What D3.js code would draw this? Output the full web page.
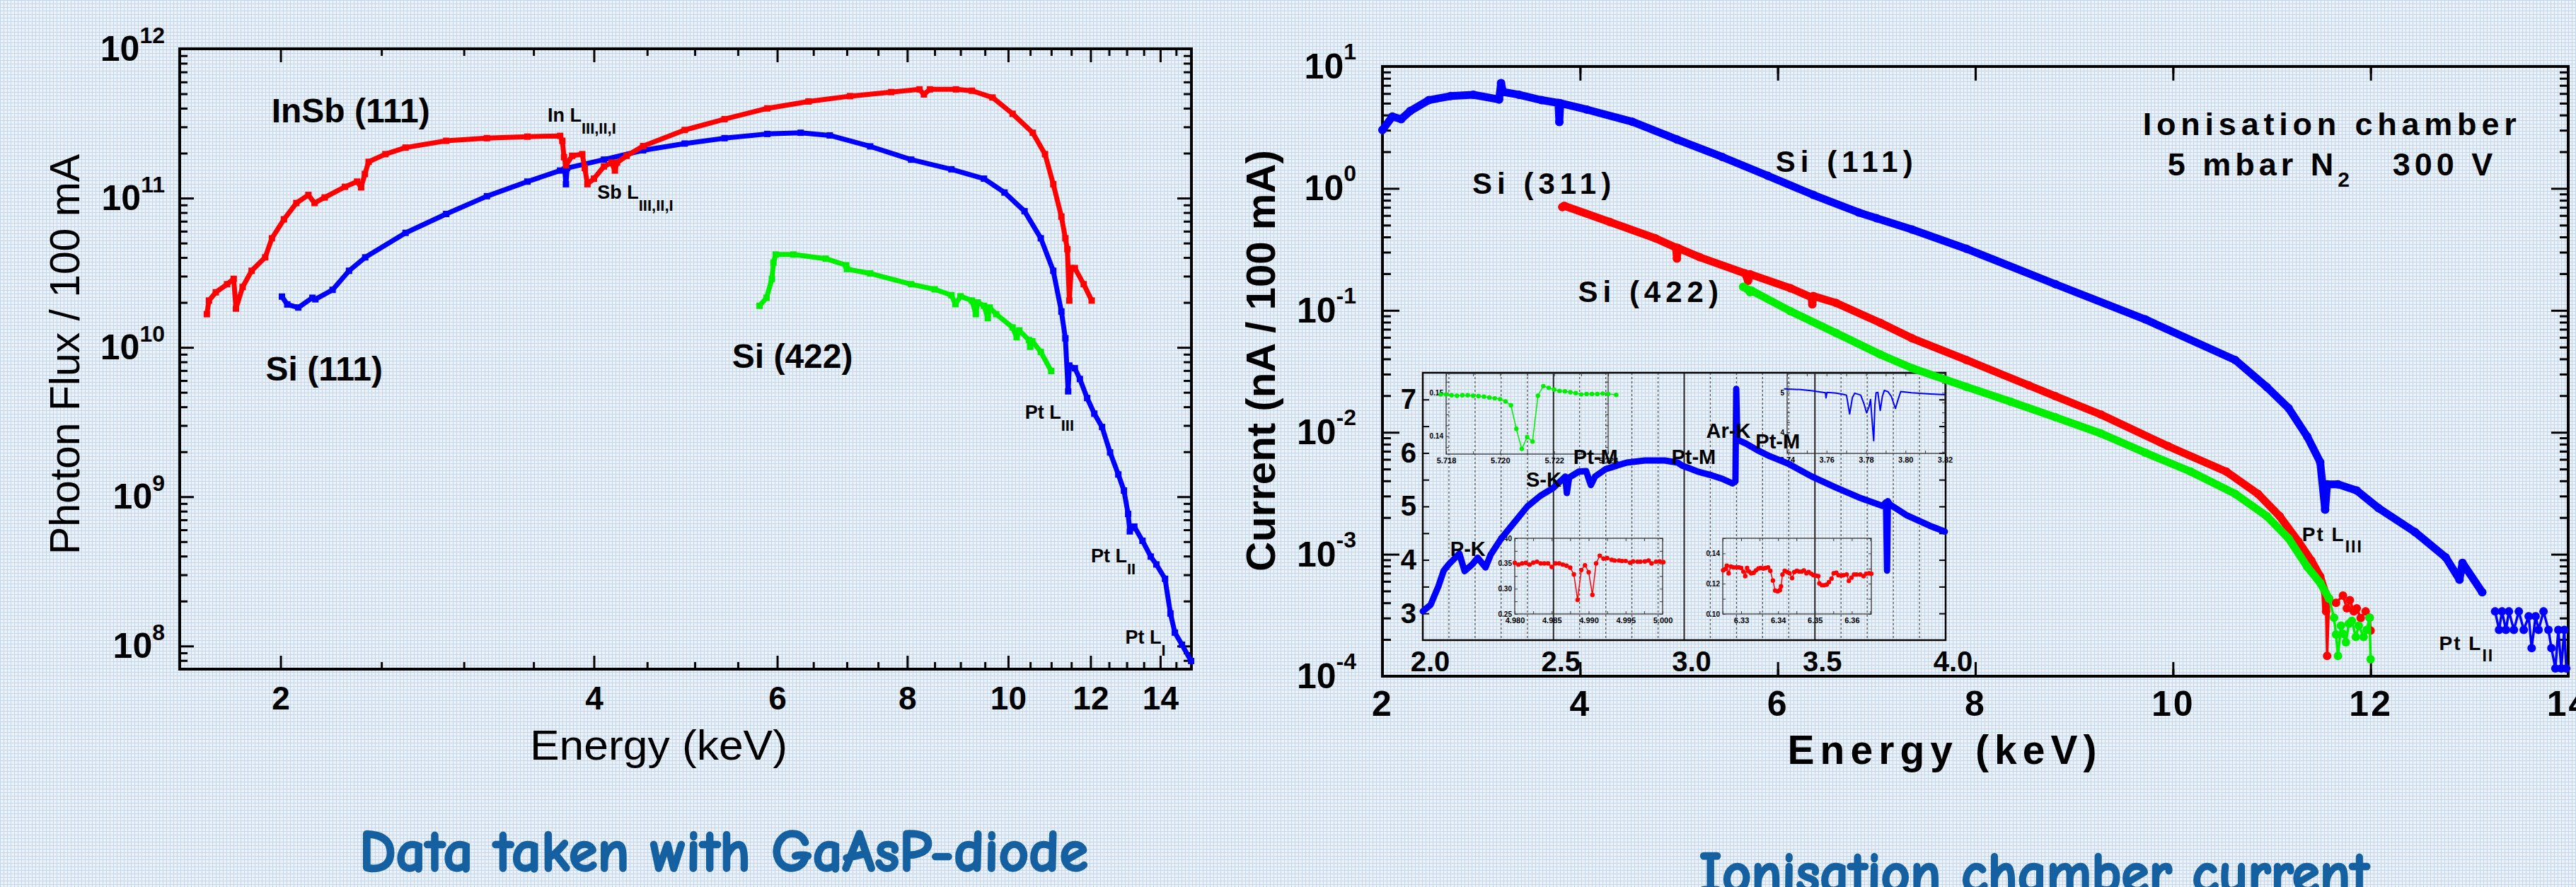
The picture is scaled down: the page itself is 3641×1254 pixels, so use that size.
<!DOCTYPE html>
<html>
<head>
<meta charset="utf-8">
<title>Photon flux and ionisation chamber current</title>
<script src="https://cdn.jsdelivr.net/npm/d3@7"></script>
<style>
  body { margin: 0; background: #eef3f9; }
  svg { display: block; }
  text { font-family: "Liberation Sans", Arial, Helvetica, sans-serif; fill: #000; }
  .caption { font-family: "Comic Sans MS", "Comic Neue", "DejaVu Sans", sans-serif; font-weight: bold; fill: #1560a0; stroke: #1560a0; stroke-width: 2.5; }
</style>
</head>
<body>
<svg id="chart" width="3641" height="1254"></svg>
<script>
// --- DATA: GaAsP diode (left panel), energy [keV] vs photons / 100 mA ---
const diodeInSb111 = [
  [1.699, 1.67e10], [1.707, 2.06e10], [1.733, 2.34e10], [1.777, 2.65e10], [1.803, 2.88e10],
  [1.812, 1.82e10], [1.839, 2.54e10], [1.876, 3.26e10], [1.933, 4.01e10], [1.962, 5.38e10],
  [2.015, 7.21e10], [2.071, 9.27e10], [2.127, 1.05e11], [2.156, 9.27e10], [2.205, 1.01e11],
  [2.306, 1.19e11], [2.369, 1.29e11], [2.39, 1.18e11], [2.41, 1.45e11], [2.43, 1.75e11],
  [2.522, 1.97e11], [2.637, 2.18e11], [2.885, 2.42e11], [3.157, 2.52e11], [3.453, 2.58e11],
  [3.712, 2.61e11], [3.73, 2.42e11], [3.744, 1.88e11], [3.76, 1.66e11], [3.812, 1.92e11],
  [3.898, 1.97e11], [3.92, 1.59e11], [3.943, 1.24e11], [4.00, 1.35e11], [4.09, 1.63e11],
  [4.16, 1.73e11], [4.19, 1.53e11], [4.21, 1.73e11], [4.30, 1.92e11], [4.46, 2.23e11],
  [4.89, 2.86e11], [5.34, 3.38e11], [5.87, 3.99e11], [6.43, 4.44e11], [7.05, 4.82e11],
  [7.72, 5.13e11], [8.22, 5.35e11], [8.30, 4.95e11], [8.41, 5.35e11], [8.91, 5.35e11],
  [9.23, 5.24e11], [9.66, 4.72e11], [10.10, 3.67e11], [10.56, 2.74e11], [10.85, 1.97e11],
  [11.05, 1.24e11], [11.25, 7.52e10], [11.35, 5.38e10], [11.40, 4.55e10], [11.45, 2.06e10],
  [11.50, 3.40e10], [11.59, 3.40e10], [11.82, 2.65e10], [12.03, 2.06e10]
];
const diodeSi111 = [
  [2.006, 2.19e10], [2.03, 1.94e10], [2.08, 1.85e10], [2.146, 2.15e10], [2.16, 2.10e10],
  [2.244, 2.43e10], [2.327, 3.26e10], [2.412, 4.01e10], [2.637, 5.85e10], [2.885, 7.83e10],
  [3.157, 1.03e11], [3.453, 1.29e11], [3.712, 1.53e11], [3.75, 1.55e11], [3.76, 1.24e11],
  [3.77, 1.59e11], [4.09, 1.81e11], [4.46, 2.09e11], [4.89, 2.32e11], [5.34, 2.52e11],
  [5.87, 2.69e11], [6.32, 2.74e11], [6.74, 2.63e11], [7.37, 2.22e11], [8.07, 1.81e11],
  [8.82, 1.56e11], [9.48, 1.35e11], [9.92, 1.09e11], [10.37, 8.17e10], [10.75, 5.38e10],
  [11.05, 3.26e10], [11.25, 1.74e10], [11.35, 1.15e10], [11.42, 5.08e9], [11.45, 7.56e9],
  [11.59, 7.25e9], [11.72, 6.14e9], [11.91, 4.58e9], [12.10, 3.6e9], [12.31, 2.93e9],
  [12.53, 1.98e9], [12.76, 1.41e9], [12.92, 1.10e9], [13.04, 7.67e8], [13.09, 5.86e8],
  [13.22, 6.31e8], [13.46, 5.07e8], [13.71, 3.97e8], [13.88, 3.52e8], [14.15, 2.82e8],
  [14.32, 1.65e8], [14.46, 1.23e8], [14.69, 1.02e8], [14.99, 7.94e7]
];
const diodeSi422 = [
  [5.77, 1.90e10], [5.86, 2.15e10], [5.93, 2.88e10], [5.95, 3.70e10], [5.98, 4.19e10],
  [6.22, 4.19e10], [6.68, 3.93e10], [6.99, 3.55e10], [7.00, 3.35e10], [7.37, 3.13e10],
  [8.07, 2.65e10], [8.5, 2.45e10], [8.82, 2.24e10], [8.9, 1.95e10], [9.0, 2.2e10],
  [9.23, 2.06e10], [9.31, 1.67e10], [9.35, 2.0e10], [9.48, 1.90e10], [9.56, 1.57e10],
  [9.6, 1.85e10], [9.74, 1.67e10], [10.10, 1.36e10], [10.19, 1.17e10], [10.25, 1.30e10],
  [10.47, 1.12e10], [10.5, 1.01e10], [10.55, 1.10e10], [10.75, 9.31e9], [11.00, 6.95e9]
];
const diodeXTicks = [2, 4, 6, 8, 10, 12, 14];
const diodeYExps = [8, 9, 10, 11, 12];

// --- DATA: ionisation chamber (right panel), energy [keV] vs nA / 100 mA ---
const ionSi111 = [
  [2.00, 3.02], [2.10, 3.89], [2.19, 3.70], [2.28, 4.31], [2.47, 5.30], [2.69, 5.72],
  [2.92, 5.86], [3.18, 5.36], [3.20, 7.3], [3.22, 6.18], [3.38, 5.87], [3.61, 5.30],
  [3.78, 5.03], [3.79, 3.50], [3.80, 5.0], [4.07, 4.43], [4.53, 3.52], [4.98, 2.52],
  [5.44, 1.81], [5.90, 1.27], [6.36, 0.885], [6.82, 0.635], [7.00, 0.57], [7.36, 0.46],
  [7.91, 0.32], [8.81, 0.164], [9.72, 0.0843], [10.63, 0.0392], [10.95, 0.0235],
  [11.17, 0.0158], [11.36, 0.0092], [11.49, 0.0057], [11.54, 0.00232], [11.56, 0.00375],
  [11.67, 0.00375], [11.86, 0.00333], [12.08, 0.00239], [12.45, 0.00152], [12.76, 0.000944],
  [12.90, 0.00062], [12.93, 0.00085], [13.13, 0.000488], [13.26, 0.00034], [13.30, 0.00024],
  [13.33, 0.00034], [13.37, 0.00024], [13.40, 0.00034], [13.45, 0.00024], [13.50, 0.00034],
  [13.55, 0.00024], [13.60, 0.00031], [13.63, 0.00017], [13.67, 0.00031], [13.70, 0.00024],
  [13.75, 0.00034], [13.80, 0.00024], [13.83, 0.00017], [13.87, 0.000116], [13.90, 0.00024],
  [13.93, 0.000116], [13.96, 0.00024], [13.98, 0.000116]
];
const ionSi311 = [
  [3.82, 0.703], [3.84, 0.72], [4.30, 0.531], [4.76, 0.391], [4.97, 0.327], [4.98, 0.266],
  [4.99, 0.325], [5.21, 0.273], [5.67, 0.201], [5.70, 0.175], [5.72, 0.198], [6.13, 0.152],
  [6.34, 0.128], [6.35, 0.112], [6.36, 0.131], [6.59, 0.115], [7.04, 0.079], [7.36, 0.059],
  [7.91, 0.0392], [8.54, 0.0243], [8.81, 0.0198], [9.27, 0.0140], [9.95, 0.0077],
  [10.54, 0.00476], [10.86, 0.00313], [11.08, 0.00205], [11.27, 0.00127], [11.40, 0.000888],
  [11.49, 0.000657], [11.54, 0.000488], [11.55, 0.00034], [11.56, 0.000147], [11.58, 0.000433],
  [11.65, 0.00040], [11.72, 0.000459], [11.76, 0.00036], [11.79, 0.00042], [11.83, 0.00034],
  [11.86, 0.000361], [11.90, 0.00030], [11.95, 0.00034], [11.99, 0.000302], [12.0, 0.000237]
];
const ionSi422 = [
  [5.65, 0.156], [5.70, 0.148], [5.72, 0.141], [5.73, 0.146], [6.13, 0.0984], [6.59, 0.0653],
  [7.04, 0.0434], [7.36, 0.0336], [7.91, 0.0236], [8.36, 0.0178], [8.81, 0.0133], [9.27, 0.0098],
  [9.72, 0.0068], [10.18, 0.00476], [10.63, 0.00313], [10.95, 0.00205], [11.17, 0.00135],
  [11.36, 0.000787], [11.49, 0.000583], [11.58, 0.000432], [11.63, 0.000302], [11.65, 0.00022],
  [11.67, 0.000147], [11.70, 0.00026], [11.72, 0.000223], [11.75, 0.00019], [11.78, 0.00027],
  [11.81, 0.000284], [11.85, 0.00021], [11.88, 0.00026], [11.93, 0.00021], [11.96, 0.00024],
  [11.99, 0.000302], [12.0, 0.000138]
];
const ionXTicks = [2, 4, 6, 8, 10, 12, 14];
const ionYExps = [-4, -3, -2, -1, 0, 1];

// --- DATA: inset, Si(111) low-energy detail (linear scale) ---
const insetSi111 = [
  [2.00, 3.04], [2.03, 3.16], [2.06, 3.51], [2.08, 3.80], [2.10, 3.92], [2.14, 4.12],
  [2.16, 3.79], [2.19, 3.92], [2.21, 4.04], [2.24, 3.86], [2.26, 4.10], [2.30, 4.40],
  [2.35, 4.70], [2.40, 5.00], [2.45, 5.20], [2.50, 5.35], [2.545, 5.56], [2.551, 5.25],
  [2.56, 5.54], [2.596, 5.65], [2.625, 5.66], [2.643, 5.40], [2.659, 5.56], [2.70, 5.70],
  [2.78, 5.82], [2.85, 5.86], [2.925, 5.86], [2.975, 5.82], [2.993, 5.76], [3.016, 5.72],
  [3.053, 5.65], [3.107, 5.58], [3.144, 5.52], [3.185, 5.43], [3.196, 5.47], [3.199, 7.20],
  [3.203, 6.25], [3.235, 6.18], [3.281, 6.05], [3.327, 5.94], [3.398, 5.80], [3.488, 5.56],
  [3.578, 5.36], [3.668, 5.17], [3.759, 5.01], [3.772, 5.08], [3.776, 3.80], [3.779, 5.10],
  [3.786, 5.04], [3.849, 4.84], [3.939, 4.64], [3.997, 4.53]
];
const insetXTicks = [2.0, 2.5, 3.0, 3.5, 4.0];
const insetYTicks = [3, 4, 5, 6, 7];

// --- DATA: small zoom windows inside the inset ---
const zoomS = [
  [5.7178, 0.1496], [5.7180, 0.1496], [5.7182, 0.1494], [5.7184, 0.1493], [5.7186, 0.1494],
  [5.7188, 0.1494], [5.7190, 0.1493], [5.7192, 0.1492], [5.7194, 0.1491], [5.7196, 0.1489],
  [5.7198, 0.1487], [5.7200, 0.1485], [5.7202, 0.1480], [5.7204, 0.1471], [5.7206, 0.1417],
  [5.7208, 0.1371], [5.7210, 0.1398], [5.7212, 0.1388], [5.7214, 0.1493], [5.7216, 0.1515],
  [5.7218, 0.1511], [5.7220, 0.1507], [5.7222, 0.1504], [5.7224, 0.1503], [5.7226, 0.1501],
  [5.7228, 0.1499], [5.7230, 0.1496], [5.7232, 0.1497], [5.7234, 0.1497], [5.7236, 0.1497],
  [5.7238, 0.1498], [5.7240, 0.1497], [5.7243, 0.1495]
];
const zoomAr = [
  [3.7387, 5.10], [3.7468, 5.08], [3.7528, 5.05], [3.7594, 5.00], [3.7597, 4.87], [3.7602, 5.01],
  [3.7648, 4.99], [3.7683, 4.96], [3.7701, 4.94], [3.7717, 4.46], [3.7731, 4.88], [3.7743, 4.99],
  [3.7773, 4.94], [3.7789, 4.73], [3.7803, 4.49], [3.7815, 4.64], [3.7823, 4.83], [3.7829, 4.40],
  [3.7839, 3.78], [3.7845, 4.70], [3.7851, 5.00], [3.7860, 5.01], [3.7872, 4.55], [3.7883, 4.91],
  [3.7893, 5.06], [3.7911, 5.03], [3.7928, 4.91], [3.7949, 4.60], [3.7964, 4.85], [3.7976, 5.03],
  [3.8030, 5.00], [3.8126, 4.97], [3.8198, 4.95]
];
const zoomPt1 = [
  [4.9800, 0.3513], [4.9805, 0.3479], [4.9810, 0.3503], [4.9815, 0.3513], [4.9820, 0.3479],
  [4.9825, 0.3517], [4.9830, 0.3536], [4.9835, 0.3503], [4.9840, 0.3503], [4.9845, 0.3503],
  [4.9850, 0.3432], [4.9855, 0.3503], [4.9860, 0.3503], [4.9865, 0.3479], [4.9870, 0.3456],
  [4.9875, 0.3418], [4.9880, 0.3285], [4.9885, 0.2779], [4.9890, 0.3371], [4.9895, 0.3465],
  [4.9900, 0.3328], [4.9905, 0.2879], [4.9910, 0.3503], [4.9915, 0.3655], [4.9920, 0.3598],
  [4.9925, 0.3607], [4.9931, 0.3574], [4.9935, 0.3560], [4.9941, 0.3560], [4.9945, 0.3550],
  [4.9950, 0.3550], [4.9956, 0.3517], [4.9960, 0.3541], [4.9966, 0.3536], [4.9970, 0.3536],
  [4.9976, 0.3541], [4.9981, 0.3560], [4.9985, 0.3503], [4.9991, 0.3536], [4.9996, 0.3541],
  [5.0001, 0.3527]
];
const zoomPt2 = [
  [6.3251, 0.1289], [6.3257, 0.1297], [6.3261, 0.1319], [6.3266, 0.1269], [6.3272, 0.1313],
  [6.3279, 0.1308], [6.3287, 0.1308], [6.3294, 0.1308], [6.3300, 0.1304], [6.3306, 0.1280],
  [6.3311, 0.1250], [6.3316, 0.1304], [6.3321, 0.1281], [6.3327, 0.1269], [6.3334, 0.1272],
  [6.3340, 0.1288], [6.3347, 0.1300], [6.3353, 0.1304], [6.3360, 0.1300], [6.3366, 0.1304],
  [6.3373, 0.1308], [6.3379, 0.1285], [6.3386, 0.1221], [6.3392, 0.1155], [6.3399, 0.1150],
  [6.3405, 0.1158], [6.3408, 0.1182], [6.3412, 0.1261], [6.3418, 0.1285], [6.3425, 0.1277],
  [6.3431, 0.1269], [6.3438, 0.1237], [6.3444, 0.1277], [6.3451, 0.1285], [6.3457, 0.1280],
  [6.3464, 0.1280], [6.3470, 0.1288], [6.3477, 0.1269], [6.3483, 0.1277], [6.3490, 0.1266],
  [6.3496, 0.1256], [6.3503, 0.1253], [6.3509, 0.1250], [6.3512, 0.1202], [6.3519, 0.1190],
  [6.3525, 0.1190], [6.3532, 0.1194], [6.3538, 0.1210], [6.3545, 0.1234], [6.3551, 0.1269],
  [6.3558, 0.1272], [6.3564, 0.1256], [6.3571, 0.1253], [6.3577, 0.1256], [6.3586, 0.1261],
  [6.3592, 0.1218], [6.3599, 0.1240], [6.3606, 0.1261], [6.3613, 0.1261], [6.3623, 0.1261],
  [6.3632, 0.1250], [6.3639, 0.1266], [6.3647, 0.1269], [6.3653, 0.1266]
];

// --- LABELS placed at data coordinates ---
const diodeNotes = [
  { kind: 'crystal', text: 'InSb (111)', e: 1.96, v: 3.2e11 },
  { kind: 'crystal', text: 'Si (111)', e: 1.935, v: 6.0e9 },
  { kind: 'crystal', text: 'Si (422)', e: 5.43, v: 7.3e9 },
  { kind: 'edge', text: 'In L', sub: 'III,II,I', e: 3.61, v: 3.25e11 },
  { kind: 'edge', text: 'Sb L', sub: 'III,II,I', e: 4.03, v: 9.9e10 },
  { kind: 'edge', text: 'Pt L', sub: 'III', e: 10.38, v: 3.32e9 },
  { kind: 'edge', text: 'Pt L', sub: 'II', e: 12.01, v: 3.62e8 },
  { kind: 'edge', text: 'Pt L', sub: 'I', e: 12.96, v: 1.04e8 }
];
const ionNotes = [
  { kind: 'crystal', text: 'Si (111)', e: 5.98, v: 1.37 },
  { kind: 'crystal', text: 'Si (311)', e: 2.91, v: 0.903 },
  { kind: 'crystal', text: 'Si (422)', e: 3.98, v: 0.117 },
  { kind: 'edge', text: 'Pt L', sub: 'III', e: 11.306, v: 1.28e-3 },
  { kind: 'edge', text: 'Pt L', sub: 'II', e: 12.694, v: 1.64e-4 }
];
const insetNotes = [
  { text: 'P-K', e: 2.105, v: 4.08 },
  { text: 'S-K', e: 2.395, v: 5.37 },
  { text: 'Pt-M', e: 2.576, v: 5.80 },
  { text: 'Pt-M', e: 2.951, v: 5.79 },
  { text: 'Ar-K', e: 3.084, v: 6.28 },
  { text: 'Pt-M', e: 3.273, v: 6.09 }
];

const svg = d3.select('#chart');
const W = 3641, H = 1254;

// --- background: light blue graph paper ---
const defs = svg.append('defs');
const paper = defs.append('pattern').attr('id', 'paper')
  .attr('width', 5).attr('height', 5).attr('patternUnits', 'userSpaceOnUse');
paper.append('rect').attr('width', 5).attr('height', 5).attr('fill', '#edf2f8');
paper.append('path').attr('d', 'M0 0.5H5M0.5 0V5').attr('stroke', '#c3d7ec').attr('stroke-width', 1);
svg.append('rect').attr('width', W).attr('height', H).attr('fill', 'url(#paper)');

// --- helpers ---
const steps = (a, b, s) => d3.range(Math.round(a / s), Math.round(b / s) + 1).map(i => +(i * s).toPrecision(10));
const logMinors = (lo, hi) => {
  const out = [];
  for (let e = Math.floor(Math.log10(lo)); e <= Math.ceil(Math.log10(hi)); e++) {
    for (let m = 2; m <= 9; m++) {
      const v = +(m * Math.pow(10, e)).toPrecision(6);
      if (v >= lo && v <= hi) out.push(v);
    }
  }
  return out;
};
const tickGroup = (g, axis, transform, width) => g.append('g')
  .attr('transform', transform)
  .call(axis)
  .call(a => a.select('.domain').remove())
  .call(a => a.selectAll('line').attr('stroke', '#000').attr('stroke-width', width));

const frame = (g, x, y, color, width) => g.append('rect')
  .attr('x', x.range()[0]).attr('y', y.range()[1])
  .attr('width', x.range()[1] - x.range()[0]).attr('height', y.range()[0] - y.range()[1])
  .attr('fill', 'none').attr('stroke', color).attr('stroke-width', width);

const drawLine = (g, data, line, color, width) => g.append('path')
  .datum(data).attr('d', line)
  .attr('fill', 'none').attr('stroke', color).attr('stroke-width', width)
  .attr('stroke-linejoin', 'round').attr('stroke-linecap', 'round');

const addNote = (g, x, y, n, st) => {
  const t = g.append('text').attr('x', x).attr('y', y)
    .attr('font-size', st.size).attr('font-weight', 'bold')
    .attr('letter-spacing', st.ls || 0).text(n.text);
  if (n.sub) {
    t.append('tspan').attr('dy', st.subDy).attr('font-size', st.subSize).text(n.sub);
  }
  return t;
};

const powerLabels = (g, exps, y, xEnd, base, supSize, supDy) => {
  g.selectAll(null).data(exps).join('text')
    .attr('x', xEnd).attr('y', d => y(Math.pow(10, d)) + 17)
    .attr('text-anchor', 'end').attr('font-weight', 'bold').attr('font-size', base)
    .each(function (d) {
      const t = d3.select(this);
      t.append('tspan').text('10');
      t.append('tspan').attr('font-size', supSize).attr('dy', supDy).text(d);
    });
};

// ================= LEFT PANEL: GaAsP diode =================
const xL = d3.scaleLog().domain([1.6, 15]).range([254, 1684]);
const yL = d3.scaleLog().domain([7e7, 1e12]).range([946, 69]);
const left = svg.append('g');

const xMinorL = steps(2.5, 14.5, 0.5).filter(v => v % 2 !== 0);
const yMinorL = logMinors(7e7, 1e12);

tickGroup(left, d3.axisBottom(xL).tickValues(xMinorL).tickSizeInner(-10).tickSizeOuter(0).tickFormat(''), 'translate(0,946)', 3);
tickGroup(left, d3.axisTop(xL).tickValues(xMinorL).tickSizeInner(-10).tickSizeOuter(0).tickFormat(''), 'translate(0,69)', 3);
tickGroup(left, d3.axisTop(xL).tickValues(diodeXTicks).tickSizeInner(-19).tickSizeOuter(0).tickFormat(''), 'translate(0,69)', 3);
tickGroup(left, d3.axisBottom(xL).tickValues(diodeXTicks).tickSizeInner(-19).tickSizeOuter(0)
  .tickPadding(24).tickFormat(d3.format('d')), 'translate(0,946)', 3)
  .selectAll('text').attr('font-size', 46).attr('font-weight', 'bold');

const yMajorL = diodeYExps.map(d => Math.pow(10, d));
tickGroup(left, d3.axisLeft(yL).tickValues(yMinorL).tickSizeInner(-11).tickSizeOuter(0).tickFormat(''), 'translate(254,0)', 3);
tickGroup(left, d3.axisLeft(yL).tickValues(yMajorL).tickSizeInner(-20).tickSizeOuter(0).tickFormat(''), 'translate(254,0)', 3);
tickGroup(left, d3.axisRight(yL).tickValues(yMinorL).tickSizeInner(-11).tickSizeOuter(0).tickFormat(''), 'translate(1684,0)', 3);
tickGroup(left, d3.axisRight(yL).tickValues(yMajorL).tickSizeInner(-20).tickSizeOuter(0).tickFormat(''), 'translate(1684,0)', 3);
frame(left, xL, yL, '#000', 4);
powerLabels(left, diodeYExps, yL, 233, 50, 32, -25);

left.append('text')
  .attr('transform', 'translate(112,501) rotate(-90)')
  .attr('text-anchor', 'middle').attr('font-size', 60)
  .attr('textLength', 566).attr('lengthAdjust', 'spacingAndGlyphs')
  .text('Photon Flux / 100 mA');
left.append('text')
  .attr('x', 931).attr('y', 1074).attr('text-anchor', 'middle').attr('font-size', 60)
  .attr('textLength', 364).attr('lengthAdjust', 'spacingAndGlyphs')
  .text('Energy (keV)');

const lineL = d3.line().x(d => xL(d[0])).y(d => yL(d[1]));
const diodeSeries = [
  { data: diodeSi111, color: '#0000ff' },
  { data: diodeSi422, color: '#00ee00' },
  { data: diodeInSb111, color: '#ff0000' }
];
diodeSeries.forEach(s => {
  drawLine(left, s.data, lineL, s.color, 7);
  left.selectAll(null).data(s.data).join('rect')
    .attr('x', d => xL(d[0]) - 4.5).attr('y', d => yL(d[1]) - 4.5)
    .attr('width', 9).attr('height', 9).attr('fill', s.color);
});

const diodeStyle = {
  crystal: { size: 48 },
  edge: { size: 27, subSize: 22, subDy: 17 }
};
diodeNotes.forEach(n => addNote(left, xL(n.e), yL(n.v), n, diodeStyle[n.kind]));

left.append('text').attr('class', 'caption')
  .attr('x', 1023).attr('y', 1231).attr('text-anchor', 'middle').attr('font-size', 82)
  .attr('textLength', 1030).attr('lengthAdjust', 'spacingAndGlyphs')
  .text('Data taken with GaAsP-diode');

// ================= RIGHT PANEL: ionisation chamber =================
const xR = d3.scaleLinear().domain([2, 14]).range([1954, 3630]);
const yR = d3.scaleLog().domain([1e-4, 10]).range([956, 94]);
const right = svg.append('g');

const xMinorR = steps(3, 13, 2);
const yMinorR = logMinors(1e-4, 10);
const yMajorR = ionYExps.map(d => Math.pow(10, d));

tickGroup(right, d3.axisBottom(xR).tickValues(xMinorR).tickSizeInner(-10).tickSizeOuter(0).tickFormat(''), 'translate(0,956)', 3);
tickGroup(right, d3.axisTop(xR).tickValues(xMinorR).tickSizeInner(-10).tickSizeOuter(0).tickFormat(''), 'translate(0,94)', 3);
tickGroup(right, d3.axisTop(xR).tickValues(ionXTicks).tickSizeInner(-20).tickSizeOuter(0).tickFormat(''), 'translate(0,94)', 3);
tickGroup(right, d3.axisBottom(xR).tickValues(ionXTicks).tickSizeInner(-20).tickSizeOuter(0)
  .tickPadding(20).tickFormat(d3.format('d')), 'translate(0,956)', 3)
  .selectAll('text').attr('font-size', 50).attr('font-weight', 'bold').attr('letter-spacing', 3);

tickGroup(right, d3.axisLeft(yR).tickValues(yMinorR).tickSizeInner(-12).tickSizeOuter(0).tickFormat(''), 'translate(1954,0)', 3);
tickGroup(right, d3.axisLeft(yR).tickValues(yMajorR).tickSizeInner(-24).tickSizeOuter(0).tickFormat(''), 'translate(1954,0)', 3);
tickGroup(right, d3.axisRight(yR).tickValues(yMinorR).tickSizeInner(-12).tickSizeOuter(0).tickFormat(''), 'translate(3630,0)', 3);
tickGroup(right, d3.axisRight(yR).tickValues(yMajorR).tickSizeInner(-24).tickSizeOuter(0).tickFormat(''), 'translate(3630,0)', 3);
frame(right, xR, yR, '#000', 4);
powerLabels(right, ionYExps, yR, 1917, 50, 32, -27);

right.append('text')
  .attr('transform', 'translate(1802,510) rotate(-90)')
  .attr('text-anchor', 'middle').attr('font-size', 57).attr('font-weight', 'bold')
  .attr('textLength', 596).attr('lengthAdjust', 'spacingAndGlyphs')
  .text('Current (nA / 100 mA)');
right.append('text')
  .attr('x', 2745).attr('y', 1080).attr('text-anchor', 'middle').attr('font-size', 57).attr('font-weight', 'bold')
  .attr('textLength', 437).attr('lengthAdjust', 'spacing')
  .text('Energy (keV)');

// --- inset: Si(111) detail with grid and small zoom windows ---
const xI = d3.scaleLinear().domain([2, 4]).range([2011, 2750]);
const yI = d3.scaleLinear().domain([2.5, 7.5]).range([905, 527]);
const inset = right.append('g');

const gridI = steps(2.1, 3.9, 0.1);
const isHalf = v => Math.abs(v * 2 - Math.round(v * 2)) < 1e-6;
inset.selectAll(null).data(gridI).join('line')
  .attr('x1', d => xI(d)).attr('x2', d => xI(d))
  .attr('y1', yI.range()[1]).attr('y2', yI.range()[0])
  .attr('stroke', d => isHalf(d) ? '#222' : '#555')
  .attr('stroke-width', d => isHalf(d) ? 2 : 1.3)
  .attr('stroke-dasharray', d => isHalf(d) ? null : '3,3');

const yTicksI = steps(3, 7, 0.5);
tickGroup(inset, d3.axisLeft(yI).tickValues(yTicksI).tickSizeInner(-9).tickSizeOuter(0).tickFormat(''), 'translate(2011,0)', 2);
tickGroup(inset, d3.axisRight(yI).tickValues(yTicksI).tickSizeInner(-9).tickSizeOuter(0).tickFormat(''), 'translate(2750,0)', 2);
tickGroup(inset, d3.axisLeft(yI).tickValues(insetYTicks).tickSize(0).tickPadding(9).tickFormat(d3.format('d')), 'translate(2011,0)', 0)
  .selectAll('text').attr('font-size', 40).attr('font-weight', 'bold');
tickGroup(inset, d3.axisBottom(xI).tickValues(insetXTicks).tickSize(0).tickPadding(16).tickFormat(d3.format('.1f')), 'translate(0,905)', 0)
  .selectAll('text').attr('font-size', 40).attr('font-weight', 'bold').attr('dx', 10);
frame(inset, xI, yI, '#000', 2.5);

const zoomBoxes = [
  { data: zoomS, color: '#00ee00', dots: true, px: [2044, 2273], py: [642, 528],
    xd: [5.718, 5.724], yd: [0.1359, 0.1544], xt: steps(5.718, 5.724, 0.001), xl: steps(5.718, 5.724, 0.002), xf: '.3f',
    yt: steps(0.1375, 0.1525, 0.0025), yl: [0.14, 0.15], yf: '.2f' },
  { data: zoomAr, color: '#0000ff', dots: false, px: [2526, 2749], py: [641, 528],
    xd: [3.74, 3.82], yd: [3.46, 5.49], xt: steps(3.74, 3.82, 0.01), xl: steps(3.74, 3.82, 0.02), xf: '.2f',
    yt: steps(3.5, 5.25, 0.25), yl: [4, 5], yf: 'd' },
  { data: zoomPt1, color: '#ff0000', dots: true, px: [2141, 2350], py: [868, 761],
    xd: [4.98, 5.0], yd: [0.25, 0.40], xt: steps(4.98, 5.0, 0.0025), xl: steps(4.98, 5.0, 0.005), xf: '.3f',
    yt: steps(0.25, 0.40, 0.025), yl: steps(0.25, 0.40, 0.05), yf: '.2f' },
  { data: zoomPt2, color: '#ff0000', dots: true, px: [2435, 2645], py: [868, 761],
    xd: [6.325, 6.3653], yd: [0.10, 0.15], xt: steps(6.325, 6.365, 0.005), xl: steps(6.33, 6.36, 0.01), xf: '.2f',
    yt: steps(0.10, 0.15, 0.01), yl: steps(0.10, 0.14, 0.02), yf: '.2f' }
];
zoomBoxes.forEach(b => {
  const zx = d3.scaleLinear().domain(b.xd).range(b.px);
  const zy = d3.scaleLinear().domain(b.yd).range(b.py);
  const zg = inset.append('g');
  const thin = (axis, tr) => tickGroup(zg, axis, tr, 1).selectAll('line').attr('stroke', '#333');
  thin(d3.axisBottom(zx).tickValues(b.xt).tickSizeInner(-4).tickSizeOuter(0).tickFormat(''), `translate(0,${b.py[0]})`);
  thin(d3.axisTop(zx).tickValues(b.xt).tickSizeInner(-4).tickSizeOuter(0).tickFormat(''), `translate(0,${b.py[1]})`);
  thin(d3.axisLeft(zy).tickValues(b.yt).tickSizeInner(-4).tickSizeOuter(0).tickFormat(''), `translate(${b.px[0]},0)`);
  thin(d3.axisRight(zy).tickValues(b.yt).tickSizeInner(-4).tickSizeOuter(0).tickFormat(''), `translate(${b.px[1]},0)`);
  tickGroup(zg, d3.axisBottom(zx).tickValues(b.xl).tickSize(0).tickPadding(5).tickFormat(d3.format(b.xf)), `translate(0,${b.py[0]})`, 0)
    .selectAll('text').attr('font-size', 11).attr('font-weight', 'bold').attr('fill', '#333');
  tickGroup(zg, d3.axisLeft(zy).tickValues(b.yl).tickSize(0).tickPadding(4).tickFormat(d3.format(b.yf)), `translate(${b.px[0]},0)`, 0)
    .selectAll('text').attr('font-size', 10).attr('font-weight', 'bold').attr('fill', '#333');
  frame(zg, zx, zy, '#333', 1.3);
  drawLine(zg, b.data, d3.line().x(d => zx(d[0])).y(d => zy(d[1])), b.color, b.dots ? 1.5 : 2);
  if (b.dots) {
    zg.selectAll(null).data(b.data).join('circle')
      .attr('cx', d => zx(d[0])).attr('cy', d => zy(d[1])).attr('r', 3.2).attr('fill', b.color);
  }
});

drawLine(inset, insetSi111, d3.line().x(d => xI(d[0])).y(d => yI(d[1])), '#0000ff', 9);
insetNotes.forEach(n => addNote(inset, xI(n.e), yI(n.v), n, { size: 29 }));

// --- main ionisation chamber curves ---
const lineR = d3.line().x(d => xR(d[0])).y(d => yR(d[1]));
const ionSeries = [
  { data: ionSi111, color: '#0000ff', tail: 13.2 },
  { data: ionSi311, color: '#ff0000', tail: 11.5 },
  { data: ionSi422, color: '#00ee00', tail: 11.55 }
];
ionSeries.forEach(s => {
  const body = s.data.filter(d => d[0] <= s.tail + 0.05);
  drawLine(right, body, lineR, s.color, 11);
  drawLine(right, s.data.filter(d => d[0] >= s.tail), lineR, s.color, 3.5);
  right.selectAll(null).data(s.data).join('circle')
    .attr('cx', d => xR(d[0])).attr('cy', d => yR(d[1])).attr('r', 6).attr('fill', s.color);
});

const ionStyle = {
  crystal: { size: 42, ls: 7 },
  edge: { size: 28, ls: 2, subSize: 23, subDy: 16 }
};
ionNotes.forEach(n => addNote(right, xR(n.e), yR(n.v), n, ionStyle[n.kind]));

// chamber settings, top right
right.append('text')
  .attr('x', xR(11.585)).attr('y', yR(2.738)).attr('text-anchor', 'middle')
  .attr('font-size', 45).attr('font-weight', 'bold')
  .attr('textLength', 528).attr('lengthAdjust', 'spacing')
  .text('Ionisation chamber');
const gas = right.append('text')
  .attr('x', xR(9.946)).attr('y', yR(1.278))
  .attr('font-size', 45).attr('font-weight', 'bold').attr('letter-spacing', 6)
  .text('5 mbar N');
gas.append('tspan').attr('dy', 16).attr('font-size', 30).attr('letter-spacing', 0).text('2');
right.append('text')
  .attr('x', xR(12.222)).attr('y', yR(1.278))
  .attr('font-size', 45).attr('font-weight', 'bold').attr('letter-spacing', 6)
  .text('300 V');

right.append('text').attr('class', 'caption')
  .attr('x', 2875).attr('y', 1262).attr('text-anchor', 'middle').attr('font-size', 82)
  .attr('textLength', 947).attr('lengthAdjust', 'spacingAndGlyphs')
  .text('Ionisation chamber current');
</script>
</body>
</html>
